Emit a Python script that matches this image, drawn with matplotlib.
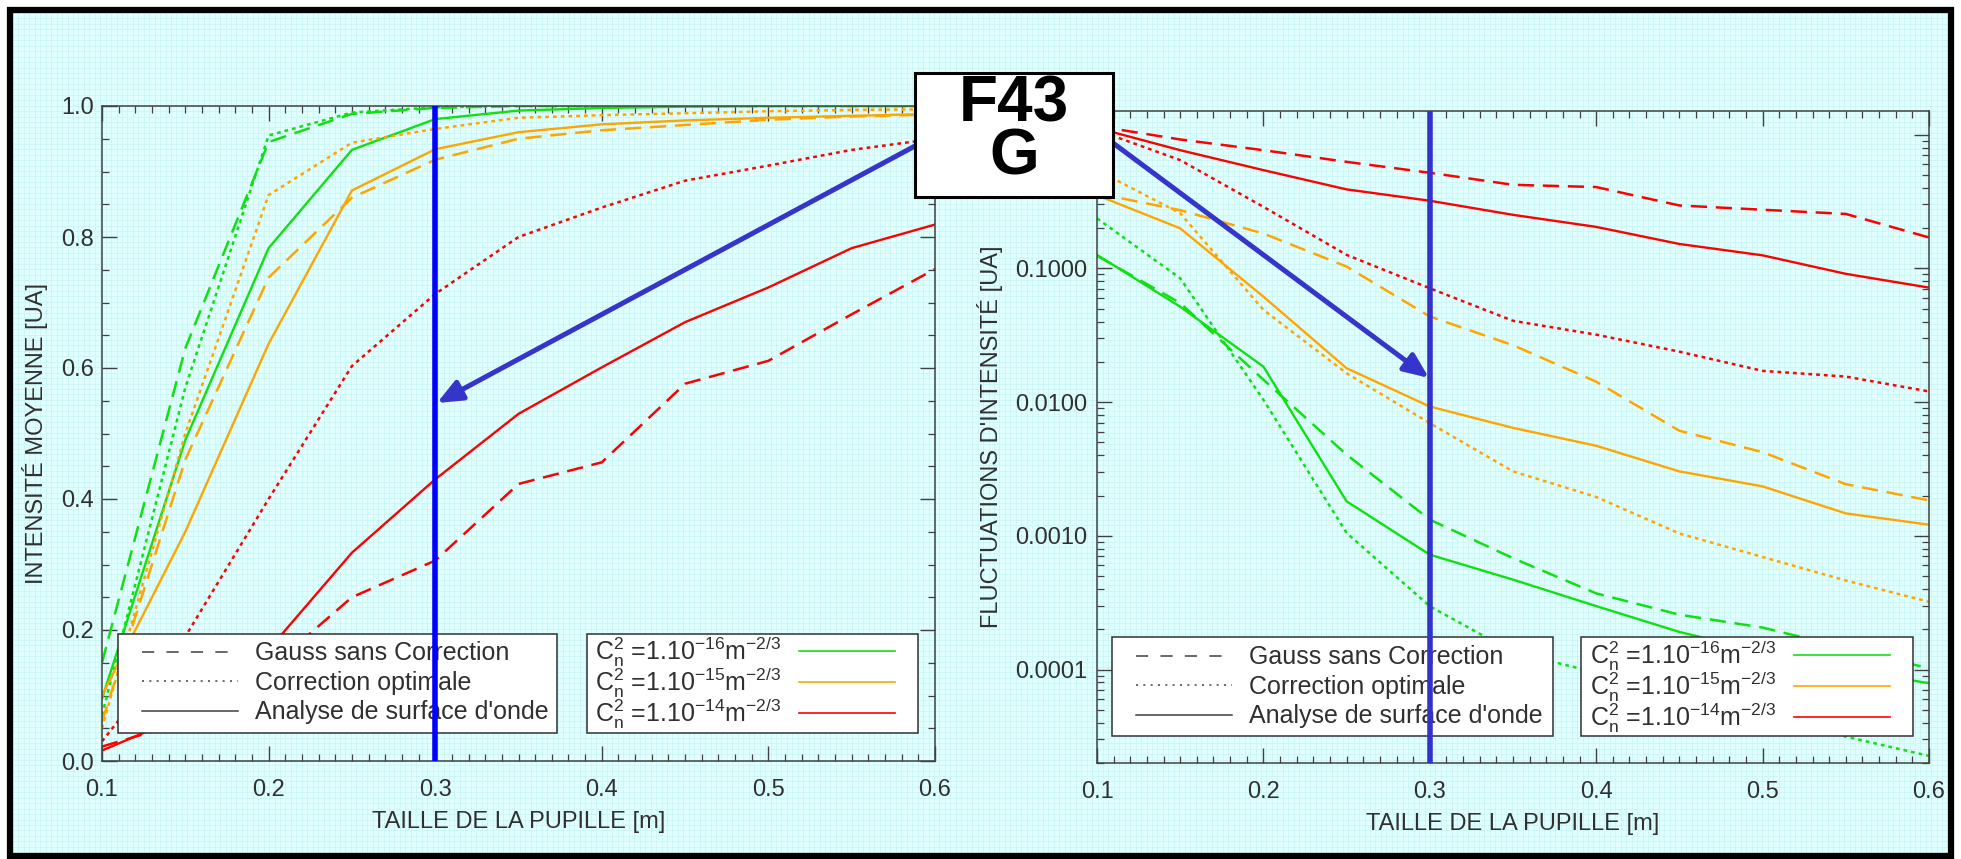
import numpy as np
import matplotlib
matplotlib.use("Agg")
import matplotlib.pyplot as plt
from matplotlib.lines import Line2D
from matplotlib.patches import Rectangle, FancyArrowPatch
from matplotlib.ticker import MultipleLocator, FixedLocator, FormatStrFormatter, FuncFormatter, LogLocator, NullFormatter

W, H = 1961, 859

plt.rcParams.update({"font.family": ["Liberation Sans", "DejaVu Sans"],
                     "mathtext.default": "regular"})

# pupil size [m]
PUPIL = [0.10, 0.15, 0.20, 0.25, 0.30, 0.35, 0.40, 0.45, 0.50, 0.55, 0.60]
SELECTED_PUPIL = 0.3

# mean intensity (left panel)
MEAN_G16_GAUSS = [0.15, 0.63, 0.945, 0.988, 0.997, 1.0, 1.0, 1.0, 1.0, 1.0, 1.0]
MEAN_G16_OPT = [0.07, 0.57, 0.955, 0.990, 0.998, 1.0, 1.0, 1.0, 1.0, 1.0, 1.0]
MEAN_G16_WFS = [0.095, 0.49, 0.783, 0.933, 0.980, 0.993, 0.997, 0.999, 1.0, 1.0, 1.0]
MEAN_O15_GAUSS = [0.06, 0.46, 0.738, 0.860, 0.918, 0.950, 0.963, 0.971, 0.979, 0.984, 0.987]
MEAN_O15_OPT = [0.05, 0.50, 0.864, 0.944, 0.965, 0.982, 0.986, 0.989, 0.992, 0.994, 0.995]
MEAN_O15_WFS = [0.10, 0.35, 0.637, 0.871, 0.934, 0.960, 0.972, 0.978, 0.982, 0.985, 0.988]
MEAN_R14_GAUSS = [0.022, 0.06, 0.14, 0.25, 0.306, 0.423, 0.456, 0.576, 0.611, 0.682, 0.751]
MEAN_R14_OPT = [0.03, 0.19, 0.40, 0.603, 0.713, 0.80, 0.845, 0.886, 0.909, 0.933, 0.95]
MEAN_R14_WFS = [0.016, 0.07, 0.17, 0.318, 0.43, 0.53, 0.601, 0.670, 0.723, 0.783, 0.819]

# intensity fluctuations (right panel)
FLUC_G16_GAUSS = [0.124, 0.055, 0.0147, 0.00404, 0.00132, 0.00068, 0.000371, 0.000257, 0.000206, 0.000145, 0.000102]
FLUC_G16_OPT = [0.236, 0.0842, 0.0104, 0.00105, 0.000297, 0.000135, 0.000095, 0.000065, 0.000045, 0.0000315, 0.0000226]
FLUC_G16_WFS = [0.126, 0.0516, 0.0184, 0.00181, 0.000722, 0.00047, 0.000298, 0.000191, 0.000135, 0.0001, 0.000079]
FLUC_O15_GAUSS = [0.363, 0.272, 0.182, 0.103, 0.0436, 0.0266, 0.0142, 0.0061, 0.00422, 0.00243, 0.00184]
FLUC_O15_OPT = [0.542, 0.258, 0.0489, 0.0164, 0.00695, 0.00303, 0.00195, 0.00104, 0.000694, 0.000463, 0.000321]
FLUC_O15_WFS = [0.352, 0.199, 0.0614, 0.0179, 0.00925, 0.00641, 0.00471, 0.00303, 0.00234, 0.00147, 0.00121]
FLUC_R14_GAUSS = [1.157, 0.919, 0.764, 0.625, 0.518, 0.421, 0.405, 0.295, 0.274, 0.255, 0.17]
FLUC_R14_OPT = [1.08, 0.644, 0.288, 0.126, 0.0709, 0.0405, 0.0319, 0.0238, 0.0171, 0.0155, 0.0120]
FLUC_R14_WFS = [1.12, 0.764, 0.542, 0.389, 0.320, 0.251, 0.204, 0.152, 0.125, 0.0909, 0.0717]

METHODS = ["Gauss sans Correction", "Correction optimale", "Analyse de surface d'onde"]
CN2_LABELS = [r"C$_n^2$ =1.10$^{-16}$m$^{-2/3}$",
              r"C$_n^2$ =1.10$^{-15}$m$^{-2/3}$",
              r"C$_n^2$ =1.10$^{-14}$m$^{-2/3}$"]

GREEN, ORANGE, RED = "#10E010", "#FFA500", "#FF0000"
DASH, DOT, SOLID = (0, (6.5, 3.5)), (0, (1.5, 1.6)), "-"
TXT = "#303030"

MEAN = [(MEAN_G16_GAUSS, MEAN_G16_OPT, MEAN_G16_WFS, GREEN),
        (MEAN_O15_GAUSS, MEAN_O15_OPT, MEAN_O15_WFS, ORANGE),
        (MEAN_R14_GAUSS, MEAN_R14_OPT, MEAN_R14_WFS, RED)]
FLUC = [(FLUC_G16_GAUSS, FLUC_G16_OPT, FLUC_G16_WFS, GREEN),
        (FLUC_O15_GAUSS, FLUC_O15_OPT, FLUC_O15_WFS, ORANGE),
        (FLUC_R14_GAUSS, FLUC_R14_OPT, FLUC_R14_WFS, RED)]


def px_box(x0, y_top, x1, y_bot):
    return [x0 / W, 1 - y_bot / H, (x1 - x0) / W, (y_bot - y_top) / H]


fig = plt.figure(figsize=(W / 100, H / 100), dpi=100, facecolor="white")

# graph-paper background inside the black frame
bg = fig.add_axes([0, 0, 1, 1], zorder=-10)
bg.set_xlim(0, W)
bg.set_ylim(H, 0)
bg.axis("off")
bg.add_patch(Rectangle((10, 10), W - 20, H - 13, facecolor="#E0FFFF", edgecolor="none", zorder=0))
step = 5.45
bg.vlines(np.arange(13, W - 13, step), 13, H - 6, color="#C8F3F3", lw=0.5, zorder=1)
bg.hlines(np.arange(13, H - 6, step), 13, W - 13, color="#C8F3F3", lw=0.5, zorder=1)
bg.add_patch(Rectangle((10, 10), W - 20, H - 13, facecolor="none", edgecolor="black", lw=4.5, zorder=4))


def style_axes(ax):
    ax.set_facecolor("none")
    for s in ax.spines.values():
        s.set_color("#404040")
        s.set_linewidth(1.1)
    ax.set_xlim(0.1, 0.6)
    ax.xaxis.set_major_locator(MultipleLocator(0.1))
    ax.xaxis.set_minor_locator(MultipleLocator(0.01))
    ax.xaxis.set_major_formatter(FormatStrFormatter("%.1f"))
    ax.tick_params(which="both", direction="in", top=True, right=True, color="#404040",
                   labelsize=17, labelcolor=TXT)
    ax.tick_params(which="major", length=11, width=1.0)
    ax.tick_params(which="minor", length=5, width=0.9)
    ax.tick_params(axis="x", which="major", pad=13)
    ax.set_xlabel("TAILLE DE LA PUPILLE [m]", fontsize=17, color=TXT, labelpad=7)


def add_legends(ax, box1, box2, handle_x, text_x, mid_y):
    # white boxes at fixed place, legend contents drawn frameless on top
    for (x0, y0, x1, y1) in (box1, box2):
        ax.add_patch(Rectangle((x0 / W, 1 - y1 / H), (x1 - x0) / W, (y1 - y0) / H,
                               transform=fig.transFigure, facecolor="white", edgecolor="#303030",
                               lw=1.1, zorder=4.5, clip_on=False))
    style_h = [Line2D([], [], color="#404040", lw=1.1, ls=ls) for ls in [(0, (8, 8)), (0, (1.3, 3.5)), "-"]]
    color_h = [Line2D([], [], color=c, lw=1.2) for c in (GREEN, ORANGE, RED)]
    common = dict(loc="center left", bbox_transform=fig.transFigure, frameon=False,
                  fontsize=18, handlelength=3.85, borderpad=0, borderaxespad=0, labelcolor=TXT)
    leg1 = ax.legend(style_h, METHODS, bbox_to_anchor=(handle_x / W, 1 - mid_y / H),
                     handletextpad=0.68, labelspacing=0.22, **common)
    leg1.set_zorder(5)
    ax.add_artist(leg1)
    leg2 = ax.legend(color_h, CN2_LABELS, bbox_to_anchor=(text_x / W, 1 - mid_y / H),
                     markerfirst=False, handletextpad=0.7, labelspacing=-0.12, **common)
    leg2.set_zorder(5)


# left panel: mean intensity
ax1 = fig.add_axes(px_box(102, 106, 935, 761))
style_axes(ax1)
for gauss, opt, wfs, c in MEAN:
    ax1.plot(PUPIL, gauss, color=c, ls=DASH, lw=1.8, zorder=2)
    ax1.plot(PUPIL, opt, color=c, ls=DOT, lw=1.8, zorder=2)
    ax1.plot(PUPIL, wfs, color=c, ls=SOLID, lw=1.7, zorder=2)
ax1.set_ylim(0, 1)
ax1.yaxis.set_major_locator(MultipleLocator(0.2))
ax1.yaxis.set_minor_locator(MultipleLocator(0.05))
ax1.yaxis.set_major_formatter(FormatStrFormatter("%.1f"))
ax1.tick_params(axis="y", which="major", pad=6)
ax1.set_ylabel("INTENSITÉ MOYENNE [UA]", fontsize=17, color=TXT, labelpad=9)
ax1.axvline(SELECTED_PUPIL, color="#0000FF", lw=4, zorder=6)
add_legends(ax1, (118, 634, 557, 733), (587, 634, 918, 733), 142, 595, 683)

# right panel: intensity fluctuations
ax2 = fig.add_axes(px_box(1097, 111, 1929, 763))
style_axes(ax2)
for gauss, opt, wfs, c in FLUC:
    ax2.plot(PUPIL, gauss, color=c, ls=DASH, lw=1.8, zorder=2)
    ax2.plot(PUPIL, opt, color=c, ls=DOT, lw=1.8, zorder=2)
    ax2.plot(PUPIL, wfs, color=c, ls=SOLID, lw=1.7, zorder=2)
ax2.set_yscale("log")
ax2.set_ylim(2.0e-5, 1.5)
ax2.yaxis.set_major_locator(FixedLocator([1e-4, 1e-3, 1e-2, 1e-1, 1.0]))
# the 1.0000 label sits under the F43 box in the original, so it is left blank
ax2.yaxis.set_major_formatter(FuncFormatter(lambda v, _: "" if v >= 1 else f"{v:.4f}"))
ax2.yaxis.set_minor_locator(LogLocator(base=10, subs=range(2, 10)))
ax2.yaxis.set_minor_formatter(NullFormatter())
ax2.tick_params(axis="y", which="major", pad=7)
ax2.set_ylabel("FLUCTUATIONS D'INTENSITÉ [UA]", fontsize=17, color=TXT, labelpad=9)
ax2.axvline(SELECTED_PUPIL, color="#3333CC", lw=4, zorder=6)
add_legends(ax2, (1112, 637, 1553, 736), (1581, 637, 1913, 736), 1136, 1590, 687)

# overlay: label box and arrows
ov = fig.add_axes([0, 0, 1, 1], zorder=10)
ov.set_xlim(0, W)
ov.set_ylim(H, 0)
ov.axis("off")
ov.patch.set_alpha(0)
arrow_kw = dict(arrowstyle="-|>,head_length=0.75,head_width=0.32", mutation_scale=20,
                color="#3535CC", lw=3.6, shrinkA=0, shrinkB=0, zorder=2)
ov.add_patch(FancyArrowPatch((915, 146), (437, 403), **arrow_kw))
ov.add_patch(FancyArrowPatch((1113, 143), (1429, 378), **arrow_kw))
ov.add_patch(Rectangle((915, 73), 198, 124, facecolor="white", edgecolor="black", lw=2.2, zorder=3))
ov.text(1014, 75, "F43\nG", ha="center", va="top", multialignment="center", linespacing=0.85,
        fontsize=46, fontweight="bold", color="black", zorder=4)

fig.savefig("out.png", dpi=100, facecolor="white")
